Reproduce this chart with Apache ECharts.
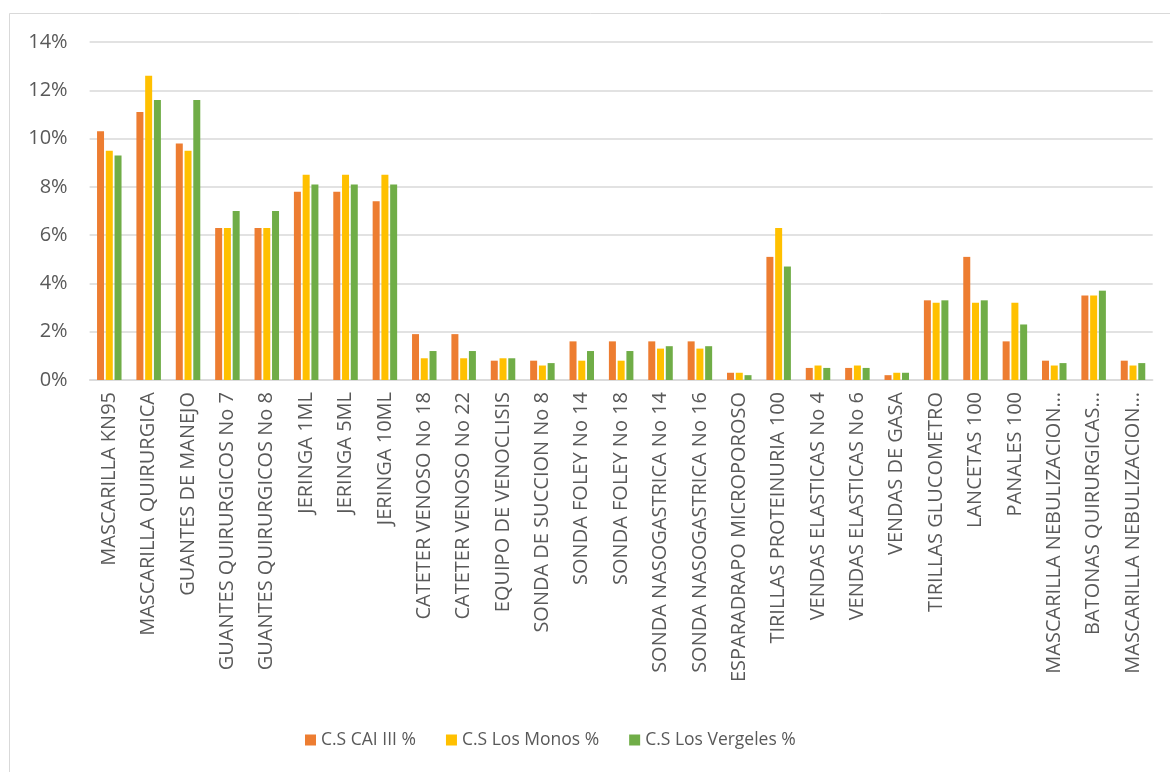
<!DOCTYPE html>
<html>
<head>
<meta charset="utf-8">
<title>Consumo de insumos por centro de salud</title>
<script src="https://cdn.jsdelivr.net/npm/echarts@6/dist/echarts.min.js"></script>
<style>
  html, body { margin: 0; padding: 0; background: #ffffff; }
  #chart { width: 1170px; height: 772px; }
</style>
</head>
<body>
<div id="chart"></div>
<script>
// Insumos (categorías del eje X)
const categories = [
  'MASCARILLA KN95',
  'MASCARILLA QUIRURGICA',
  'GUANTES DE MANEJO',
  'GUANTES QUIRURGICOS No 7',
  'GUANTES QUIRURGICOS No 8',
  'JERINGA 1ML',
  'JERINGA 5ML',
  'JERINGA 10ML',
  'CATETER VENOSO No 18',
  'CATETER VENOSO No 22',
  'EQUIPO DE VENOCLISIS',
  'SONDA DE SUCCION No 8',
  'SONDA FOLEY No 14',
  'SONDA FOLEY No 18',
  'SONDA NASOGASTRICA No 14',
  'SONDA NASOGASTRICA No 16',
  'ESPARADRAPO MICROPOROSO',
  'TIRILLAS PROTEINURIA 100',
  'VENDAS ELASTICAS No 4',
  'VENDAS ELASTICAS No 6',
  'VENDAS DE GASA',
  'TIRILLAS GLUCOMETRO',
  'LANCETAS 100',
  'PANALES 100',
  'MASCARILLA NEBULIZACION…',
  'BATONAS QUIRURGICAS…',
  'MASCARILLA NEBULIZACION…'
];

// Porcentajes por centro de salud
const caiIII = [10.3, 11.1, 9.8, 6.3, 6.3, 7.8, 7.8, 7.4, 1.9, 1.9, 0.8, 0.8, 1.6, 1.6, 1.6, 1.6, 0.3, 5.1, 0.5, 0.5, 0.2, 3.3, 5.1, 1.6, 0.8, 3.5, 0.8];
const losMonos = [9.5, 12.6, 9.5, 6.3, 6.3, 8.5, 8.5, 8.5, 0.9, 0.9, 0.9, 0.6, 0.8, 0.8, 1.3, 1.3, 0.3, 6.3, 0.6, 0.6, 0.3, 3.2, 3.2, 3.2, 0.6, 3.5, 0.6];
const losVergeles = [9.3, 11.6, 11.6, 7.0, 7.0, 8.1, 8.1, 8.1, 1.2, 1.2, 0.9, 0.7, 1.2, 1.2, 1.4, 1.4, 0.2, 4.7, 0.5, 0.5, 0.3, 3.3, 3.3, 2.3, 0.7, 3.7, 0.7];

// Etiquetas del eje Y (en %)
const yTicks = [0, 2, 4, 6, 8, 10, 12, 14];

const seriesNames = ['C.S CAI III %', 'C.S Los Monos %', 'C.S Los Vergeles %'];
const colors = ['#ED7D31', '#FFC000', '#70AD47'];

const chart = echarts.init(document.getElementById('chart'), null, { renderer: 'canvas' });
const font = 'Open Sans';
const textColor = '#595959';

chart.setOption({
  animation: false,
  backgroundColor: '#ffffff',
  color: colors,
  graphic: [{
    // chart-area frame
    type: 'rect',
    shape: { x: 9.5, y: 13.5, width: 1200, height: 800 },
    style: { fill: 'none', stroke: '#d9d9d9', lineWidth: 1 },
    silent: true,
    z: -10
  }],
  grid: { left: 89.6, right: 17.3, top: 42, bottom: 392, containLabel: false },
  legend: {
    data: seriesNames,
    bottom: 18,
    left: 300,
    icon: 'rect',
    itemWidth: 11,
    itemHeight: 11,
    itemGap: 30,
    textStyle: { fontFamily: font, fontSize: 17.5, color: textColor }
  },
  xAxis: {
    type: 'category',
    data: categories,
    axisTick: { show: false },
    axisLine: { lineStyle: { color: '#d9d9d9', width: 1.5 } },
    axisLabel: {
      interval: 0,
      rotate: 90,
      margin: 12,
      fontFamily: font,
      fontSize: 20,
      color: textColor
    }
  },
  yAxis: {
    type: 'value',
    min: yTicks[0],
    max: yTicks[yTicks.length - 1],
    interval: yTicks[1] - yTicks[0],
    axisLine: { show: false },
    axisTick: { show: false },
    splitLine: { lineStyle: { color: '#d9d9d9', width: 1.5 } },
    axisLabel: {
      margin: 22,
      fontFamily: font,
      fontSize: 20,
      color: textColor,
      formatter: v => v + '%'
    }
  },
  series: [caiIII, losMonos, losVergeles].map((d, i) => ({
    name: seriesNames[i],
    type: 'bar',
    data: d,
    barWidth: 7,
    barGap: '25%',
    itemStyle: { color: colors[i] }
  }))
});
</script>
</body>
</html>
